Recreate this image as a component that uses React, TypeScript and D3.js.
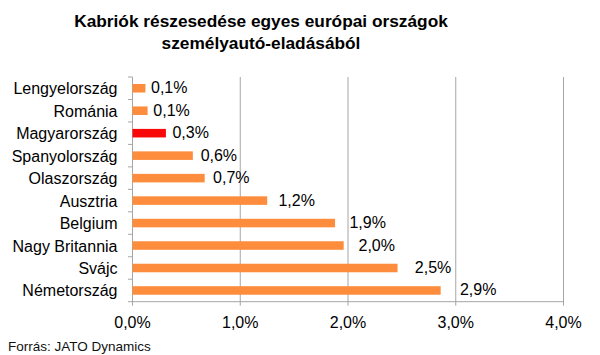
import React from "react";
import * as d3 from "d3";

const categories = ["Lengyelország", "Románia", "Magyarország", "Spanyolország", "Olaszország", "Ausztria", "Belgium", "Nagy Britannia", "Svájc", "Németország"];
const values = [0.12, 0.14, 0.31, 0.56, 0.67, 1.25, 1.88, 1.96, 2.46, 2.86];
const valueLabels = ["0,1%", "0,1%", "0,3%", "0,6%", "0,7%", "1,2%", "1,9%", "2,0%", "2,5%", "2,9%"];
const highlight = ["Magyarország"];
const xTicks = [0, 1, 2, 3, 4];
const xTickLabels = ["0,0%", "1,0%", "2,0%", "3,0%", "4,0%"];
const titleLines = ["Kabriók részesedése egyes európai országok", "személyautó-eladásából"];
const source = "Forrás: JATO Dynamics";

export default function App() {
  const W = 600, H = 355;
  const left = 132.5, right = 563.5, top = 77, bottom = 301.7;
  const x = d3.scaleLinear().domain([0, 4]).range([left, right]);
  const y = d3.scaleBand().domain(categories).range([top, bottom]).paddingInner(0.62).paddingOuter(0.31);
  const band = d3.scaleBand().domain(categories).range([top, bottom]);
  const font = "Liberation Sans, Arial, sans-serif";
  const grid = "#a6a6a6";
  return (
    <svg width={W} height={H} style={{ position: "absolute", left: 0, top: 0, background: "#fff" }} fontFamily={font}>
      {titleLines.map((t, i) => (
        <text key={i} x={261} y={27 + i * 22} textAnchor="middle" fontWeight="bold" fontSize={17.3} fill="#000">{t}</text>
      ))}
      {xTicks.slice(1).map((t) => (
        <line key={t} x1={x(t)} x2={x(t)} y1={top} y2={bottom + 4} stroke={grid} strokeWidth={1} />
      ))}
      <line x1={left} x2={left} y1={top} y2={bottom + 4} stroke={grid} />
      <line x1={left} x2={right} y1={bottom} y2={bottom} stroke={grid} />
      {categories.map((c, i) => (
        <line key={"t" + i} x1={left - 4.5} x2={left} y1={band(c)!} y2={band(c)!} stroke={grid} />
      ))}
      <line x1={left - 4.5} x2={left} y1={bottom} y2={bottom} stroke={grid} />
      {categories.map((c, i) => (
        <g key={c}>
          <rect x={x(0)} y={y(c)!} width={x(values[i]) - x(0)} height={y.bandwidth()} fill={highlight.includes(c) ? "#f80808" : "#fd8d3c"} />
          <text x={x(values[i]) + 5 + 5 * values[i]} y={y(c)! + y.bandwidth() / 2 + 5} fontSize={16} fill="#000">{valueLabels[i]}</text>
          <text x={117.5} y={band(c)! + band.bandwidth() / 2 + 6} fontSize={16} textAnchor="end" fill="#000">{c}</text>
        </g>
      ))}
      {xTicks.map((t, i) => (
        <text key={t} x={x(t)} y={328} textAnchor="middle" fontSize={16} fill="#000">{xTickLabels[i]}</text>
      ))}
      <text x={8} y={351} fontSize={13.5} fill="#111">{source}</text>
    </svg>
  );
}
